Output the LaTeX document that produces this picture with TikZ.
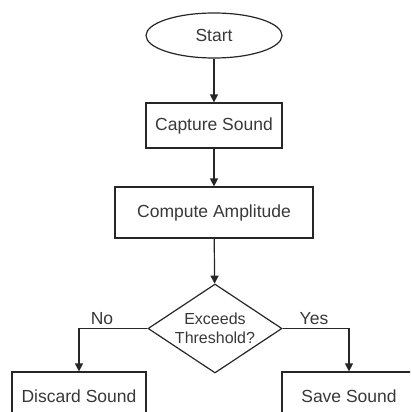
\documentclass[tikz,border=0pt]{standalone}
\usepackage{fontspec}
\setmainfont{Liberation Sans}
\usetikzlibrary{shapes.geometric,arrows.meta}

\begin{document}
\begin{tikzpicture}[x=1pt,y=-1pt,
        font=\fontsize{17.5}{21}\selectfont,
        every node/.style={text=black!78,inner sep=0pt},
        box/.style={draw=black!85,line width=1.2pt,rectangle,minimum width=136pt,minimum height=45pt},
        term/.style={draw=black!85,line width=1.2pt,ellipse,minimum width=136pt,minimum height=45pt},
        test/.style={draw=black!85,line width=1.2pt,diamond,aspect=1.5,minimum width=134pt,minimum height=89pt,
            align=center,font=\fontsize{16}{19.5}\selectfont},
        arr/.style={draw=black!85,line width=1.2pt,-{Triangle[length=8pt,width=8pt]}}]

    \useasboundingbox (0,0) rectangle (410,412);
    \clip (0,0) rectangle (410,412);

    \node[term] (start)   at (214,35.5)  {Start};
    \node[box]  (capture) at (214,125.5) {Capture Sound};
    \node[box,minimum width=198pt,minimum height=51pt] (compute) at (214,212.5) {Compute Amplitude};
    \node[test] (thresh)  at (215,328.5) {Exceeds\\Threshold?};
    \node[box,minimum width=134pt,minimum height=48pt] (discard) at (79,396) {Discard Sound};
    \node[box,minimum width=134pt,minimum height=48pt] (save)    at (349,396) {Save Sound};

    \node (no)  at (102,319) {No};
    \node (yes) at (314,319) {Yes};

    \draw[arr] (start) -- (capture);
    \draw[arr] (capture) -- (compute);
    \draw[arr] (compute) -- (thresh);
    \draw[arr] (thresh.west) -| (discard.north);
    \draw[arr] (thresh.east) -| (save.north);
\end{tikzpicture}
\end{document}
